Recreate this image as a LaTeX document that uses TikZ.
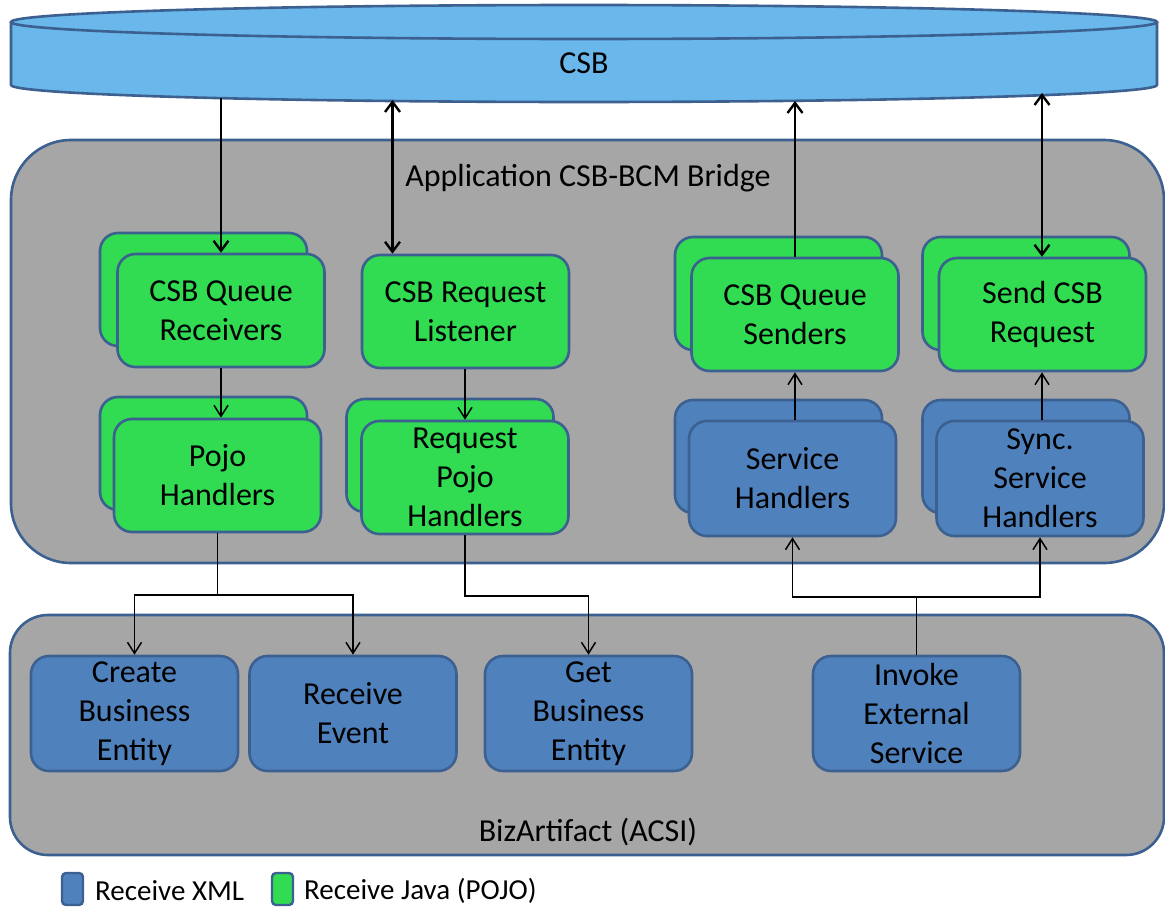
\documentclass[tikz,border=0pt]{standalone}
\usepackage{fontspec}
\setmainfont{Carlito}
\usetikzlibrary{arrows.meta}
\definecolor{csbblue}{HTML}{69B7EB}
\definecolor{edgecol}{HTML}{3C6090}
\definecolor{panel}{HTML}{A6A6A6}
\definecolor{gfill}{HTML}{31DB52}
\definecolor{bfill}{HTML}{4F81BD}
\tikzset{
  box/.style={rounded corners=18pt, line width=2.6pt, draw=edgecol, minimum width=207pt,
    minimum height=113pt, inner sep=0pt, align=center, text=black,
    font=\fontsize{32}{39}\selectfont, execute at begin node={\vspace*{5pt}}},
  gbox/.style={box, fill=gfill},
  bbox/.style={box, fill=bfill},
  bigpanel/.style={line width=2.6pt, draw=edgecol, fill=panel, inner sep=0pt},
  thickarr/.style={line width=2.4pt, -{Straight Barb[length=10pt,width=15pt]}},
  thickdbl/.style={line width=2.4pt, {Straight Barb[length=10pt,width=15pt]}-{Straight Barb[length=10pt,width=15pt]}},
  thinarr/.style={line width=1.5pt, -{Straight Barb[length=11pt,width=14pt]}},
  thinline/.style={line width=1.5pt},
  lbl/.style={font=\fontsize{32}{39}\selectfont, inner sep=0pt},
  legbox/.style={rounded corners=4pt, line width=2.4pt, draw=edgecol, minimum width=21pt, minimum height=32pt, inner sep=0pt},
  legtxt/.style={font=\fontsize{29}{34}\selectfont, inner sep=0pt, anchor=west}
}
\begin{document}
\begin{tikzpicture}[x=1pt,y=-1pt]
\useasboundingbox (0,0) rectangle (1165,910);

% CSB cylinder
\fill[csbblue] (11,22) -- (11,85) arc[start angle=180,end angle=0,x radius=573,y radius=17]
  -- (1157,22) arc[start angle=0,end angle=-180,x radius=573,y radius=17] -- cycle;
\draw[edgecol, line width=2.6pt, line join=round] (11,22) -- (11,85) arc[start angle=180,end angle=0,x radius=573,y radius=17] -- (1157,22);
\draw[edgecol, line width=2.6pt] (584,22) ellipse[x radius=573, y radius=17];
\node[lbl] (csb) at (584,63) {CSB};
\coordinate (c1) at (221,98);
\coordinate (c2) at (392.5,100);
\coordinate (c3) at (795,101);
\coordinate (c4) at (1042,93);

% Panels
\draw[bigpanel, rounded corners=60pt] (11,140) rectangle (1164,563);
\node[lbl] (bridge) at (588,178) {Application CSB-BCM Bridge};
\draw[bigpanel, rounded corners=38pt] (10,615) rectangle (1164,855);
\node[lbl] (biz) at (588,832) {BizArtifact (ACSI)};

% Green boxes (left)
\node[gbox] (rcvB) at (203.5,289.5) {};
\node[gbox] (rcv) at (221,310.5) {CSB Queue\\Receivers};
\node[gbox] (lst) at (465.5,311.5) {CSB Request\\Listener};
\node[gbox] (pojoB) at (203.5,453.5) {};
\node[gbox] (pojo) at (217.5,475.5) {Pojo\\Handlers};
\node[gbox] (rpojoB) at (450,455.5) {};
\node[gbox] (rpojo) at (465,477.5) {Request\\Pojo\\Handlers};

% Right side
\node[gbox] (sndB) at (778.5,293.5) {};
\node[gbox] (snd) at (795,314.5) {CSB Queue\\Senders};
\node[gbox] (reqB) at (1026,293.5) {};
\node[gbox] (req) at (1042.5,314.5) {Send CSB\\Request};
\node[bbox] (svcB) at (778.5,456.5) {};
\node[bbox, minimum height=115pt] (svc) at (792.5,478.5) {Service\\Handlers};
\node[bbox] (syncB) at (1026,456.5) {};
\node[bbox, minimum height=115pt] (sync) at (1040,478.5) {Sync.\\Service\\Handlers};

% Bottom boxes
\node[bbox, minimum height=115pt] (create) at (134.5,713.5) {Create\\Business\\Entity};
\node[bbox, minimum height=115pt] (event) at (353,713.5) {Receive\\Event};
\node[bbox, minimum height=115pt] (get) at (588.5,713.5) {Get\\Business\\Entity};
\node[bbox, minimum height=115pt] (invoke) at (916.5,713.5) {Invoke\\External\\Service};

% CSB connectors
\draw[thickarr] (c1) -- (c1 |- rcv.north);
\draw[thickdbl] (c2) -- (c2 |- lst.north);
\draw[thickarr] (c3 |- snd.north) -- (c3);
\draw[thickdbl] (c4) -- (c4 |- req.north);

% inner connectors
\draw[thinarr] (rcv.south -| c1) -- (c1 |- pojo.north);
\draw[thinarr] (lst.south -| rpojo.north) -- (rpojo.north);
\draw[thinarr] (svc.north -| snd.south) -- (snd.south);
\draw[thinarr] (sync.north -| c4) -- (c4 |- req.south);

% lower connectors
\coordinate (j1) at (217.5,595);
\coordinate (j2) at (465,596);
\coordinate (j3) at (916.5,597);
\draw[thinline] (pojo.south) -- (j1);
\draw[thinarr] (j1) -| (create.north);
\draw[thinarr] (j1) -| (event.north);
\draw[thinarr] (rpojo.south) -- (j2) -| (get.north);
\draw[thinline] (invoke.north) -- (j3);
\draw[thinarr] (j3) -| (svc.south);
\draw[thinarr] (j3) -| (sync.south);

% Legend
\node[legbox, fill=bfill] (lx) at (72.5,889) {};
\node[legtxt] (lxt) at (95,891) {Receive XML};
\node[legbox, fill=gfill] (lj) at (282.5,889) {};
\node[legtxt] (ljt) at (304,891) {Receive Java (POJO)};
\end{tikzpicture}
\end{document}
